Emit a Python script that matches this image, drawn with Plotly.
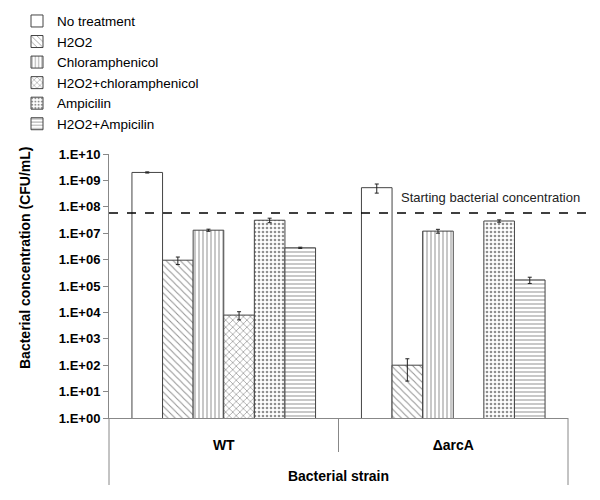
import plotly.graph_objects as go
import math

strains = ["WT", "ΔarcA"]
treatments = ["No treatment", "H2O2", "Chloramphenicol", "H2O2+chloramphenicol", "Ampicilin", "H2O2+Ampicilin"]
no_treatment = [2.0e9, 5.3e8]
no_treatment_err = [1.0e8, 2.0e8]
h2o2 = [9.5e5, 100]
h2o2_err = [3.0e5, 75]
chloramphenicol = [1.3e7, 1.2e7]
chloramphenicol_err = [1.2e6, 2.0e6]
h2o2_chlor = [7.9e3, None]
h2o2_chlor_err = [2.7e3, None]
ampicilin = [3.1e7, 2.9e7]
ampicilin_err = [6.0e6, 3.0e6]
h2o2_amp = [2.8e6, 1.7e5]
h2o2_amp_err = [1.5e5, 4.5e4]
starting_conc = 5.8e7
tick_vals = [1e0, 1e1, 1e2, 1e3, 1e4, 1e5, 1e6, 1e7, 1e8, 1e9, 1e10]
tick_text = ["1.E+00", "1.E+01", "1.E+02", "1.E+03", "1.E+04", "1.E+05",
             "1.E+06", "1.E+07", "1.E+08", "1.E+09", "1.E+10"]

series = [no_treatment, h2o2, chloramphenicol, h2o2_chlor, ampicilin, h2o2_amp]
errors = [no_treatment_err, h2o2_err, chloramphenicol_err, h2o2_chlor_err, ampicilin_err, h2o2_amp_err]
shapes_pat = ["", "\\", "|", "x", ".", "-"]
sizes = [6, 5, 4, 5, 4, 4]
solid = [0.3, 0.2, 0.25, 0.25, 0.35, 0.25]

fig = go.Figure()
for name, vals, errs, sh, sz, so in zip(treatments, series, errors, shapes_pat, sizes, solid):
    fig.add_trace(go.Bar(
        x=strains, y=vals, name=name,
        marker=dict(color="white",
                    line=dict(color="#444444", width=1),
                    pattern=dict(shape=sh, fgcolor="#222222", bgcolor="white",
                                 size=sz, solidity=so)),
        error_y=dict(type="data", array=errs, visible=True,
                     color="#222222", thickness=1, width=2),
    ))

# body margin is removed after drawing, so the figure fills the 600x500 page
W, H = 600, 500
L = 109
T = 154
R = W - 568
B = H - 418
ph = 418 - 154
pw = 568 - 109

fig.update_layout(
    width=W, height=H,
    margin=dict(l=L, r=R, t=T, b=B, autoexpand=False),
    paper_bgcolor="white", plot_bgcolor="white",
    barmode="group", bargap=0.2, bargroupgap=0,
    font=dict(family="Arial, Liberation Sans, sans-serif", color="black"),
    showlegend=True,
    legend=dict(x=(17 - 109) / pw, y=(418 - 5.7) / ph, xanchor="left", yanchor="top",
                font=dict(size=13.5, family="Arial, Liberation Sans, sans-serif"),
                bgcolor="rgba(0,0,0,0)", tracegroupgap=0, itemwidth=30),
    xaxis=dict(showline=True, linecolor="#888888", linewidth=1,
               ticks="", showgrid=False, ticklabelstandoff=14,
               tickfont=dict(size=14),
               title=dict(text="<b>Bacterial strain</b>", font=dict(size=14), standoff=19),
               range=[-0.5, 1.5]),
    yaxis=dict(type="log", range=[0, 10], showline=True, linecolor="#888888", linewidth=1,
               ticks="outside", ticklen=5, tickcolor="#888888", showgrid=False,
               tickvals=tick_vals, ticktext=["<b>%s</b>" % t for t in tick_text],
               tickfont=dict(size=13), zeroline=False),
)
fig.update_xaxes(ticktext=["<b>%s</b>" % s for s in strains], tickvals=strains)

line_grey = dict(color="#888888", width=1)
fig.add_shape(type="line", xref="paper", yref="paper", x0=0, x1=0, y0=0, y1=-(485 - 418) / ph, line=line_grey)
fig.add_shape(type="line", xref="paper", yref="paper", x0=1, x1=1, y0=0, y1=-(485 - 418) / ph, line=line_grey)
fig.add_shape(type="line", xref="paper", yref="paper", x0=0.5, x1=0.5, y0=0, y1=-(452 - 418) / ph, line=line_grey)

yfrac = math.log10(starting_conc) / 10
fig.add_shape(type="line", xref="paper", yref="paper", x0=0, x1=(587 - 109) / pw,
              y0=yfrac, y1=yfrac, line=dict(color="black", width=1.5, dash="dash"))
fig.add_annotation(xref="paper", yref="paper", x=(582 - 109) / pw, y=yfrac + 16 / ph,
                   text="Starting bacterial concentration", showarrow=False,
                   xanchor="right", yanchor="middle", font=dict(size=13, color="#222222"))
fig.add_annotation(xref="paper", yref="paper", x=(25 - 109) / pw, y=(418 - 258) / ph,
                   text="<b>Bacterial concentration (CFU/mL)</b>", showarrow=False, textangle=-90,
                   xanchor="center", yanchor="middle", font=dict(size=14, color="black"))

fig.write_html("out.html", config={"displayModeBar": False},
               post_script="document.body.style.margin='0';")
